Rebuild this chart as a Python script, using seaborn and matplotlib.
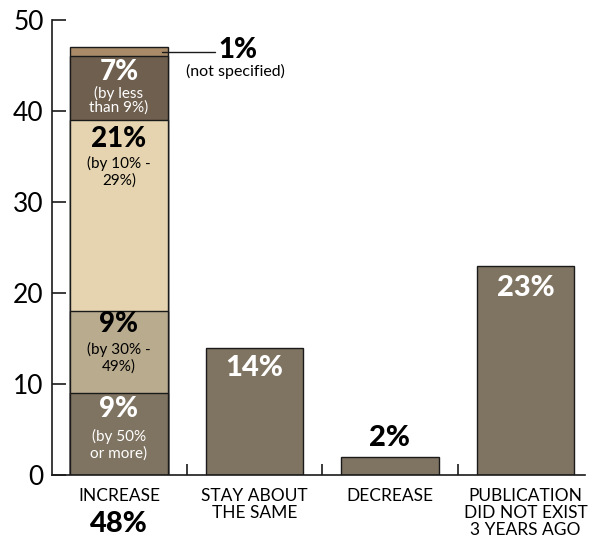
import matplotlib
matplotlib.use("Agg")
import matplotlib.pyplot as plt
import seaborn as sns
import pandas as pd
from matplotlib.ticker import FixedLocator
import matplotlib.transforms as mtrans

categories = ["INCREASE", "STAY ABOUT\nTHE SAME", "DECREASE", "PUBLICATION\nDID NOT EXIST\n3 YEARS AGO"]
totals = [47, 14, 2, 23]
total_labels = ["48%", "14%", "2%", "23%"]

# Increase breakdown (bottom to top)
seg_values = [9, 9, 21, 7, 1]
seg_pct = ["9%", "9%", "21%", "7%", "1%"]
seg_desc = ["(by 50%\nor more)", "(by 30% -\n49%)", "(by 10% -\n29%)", "(by less\nthan 9%)", "(not specified)"]
seg_colors = ["#7f7461", "#b9ab8e", "#e5d4af", "#6f5f4f", "#a98a69"]
seg_text_colors = ["white", "black", "black", "white", "black"]
bar_color = "#7f7461"
y_ticks = [0, 10, 20, 30, 40, 50]

sns.set_theme(style="white")
plt.rcParams["font.family"] = ["Lato", "DejaVu Sans"]

fig = plt.figure(figsize=(5.91, 5.45), dpi=100)
ax = fig.add_axes([0.088, 0.1284, 0.902, 0.8349])

edge = "#1a1a1a"
W = 0.72
BOLD = 900

# simple bars (non-increase)
df_tot = pd.DataFrame({"cat": categories[1:], "val": totals[1:]})
sns.barplot(data=df_tot, x="cat", y="val", order=categories, color=bar_color,
            saturation=1, width=W, edgecolor=edge, linewidth=1.0, ax=ax)

# stacked Increase bar: draw cumulative layers from top down
cum = []
s = 0
for v in seg_values:
    s += v
    cum.append(s)
for i in range(len(seg_values) - 1, -1, -1):
    d = pd.DataFrame({"cat": [categories[0]], "val": [cum[i]]})
    sns.barplot(data=d, x="cat", y="val", order=categories, color=seg_colors[i],
                saturation=1, width=W, edgecolor=edge, linewidth=1.0, ax=ax)

ax.set_xlim(-0.494, 3.44)
ax.set_ylim(0, 50)
ax.set_xlabel("")
ax.set_ylabel("")

for sp in ["top", "right"]:
    ax.spines[sp].set_visible(False)
for sp in ["left", "bottom"]:
    ax.spines[sp].set_color(edge)
    ax.spines[sp].set_linewidth(1.2)

ax.set_yticks(y_ticks)
ax.set_yticklabels([str(t) for t in y_ticks], fontsize=19, color="black")
ax.tick_params(axis="y", direction="in", length=10, width=1.2, color=edge, pad=6, left=True,
               labelcolor="black")

ax.set_xticks(range(len(categories)))
ax.set_xticklabels(categories, fontsize=12.5, linespacing=1.1, va="top", color="black")
ax.tick_params(axis="x", which="major", length=0, pad=9, labelcolor="black")
ax.xaxis.set_minor_locator(FixedLocator([0.5, 1.5, 2.5]))
ax.tick_params(axis="x", which="minor", direction="in", length=8, width=1.2, color=edge, bottom=True)

# bold 48% below INCREASE label
trans = mtrans.blended_transform_factory(ax.transData, ax.transAxes)
ax.text(0, -0.078, total_labels[0], transform=trans, ha="center", va="top",
        fontsize=21, fontweight=BOLD, color="black")

# segment labels
pct_y = [7.2, 16.6, 36.9, 44.3]
desc_y = [3.35, 12.85, 33.3, 41.15]
desc_ls = [1.2, 1.25, 1.15, 0.95]
for i in range(4):
    ax.text(0, pct_y[i], seg_pct[i], ha="center", va="center", fontsize=20,
            fontweight=BOLD, color=seg_text_colors[i])
    ax.text(0, desc_y[i], seg_desc[i], ha="center", va="center", fontsize=11,
            color=seg_text_colors[i], linespacing=desc_ls[i])

# not specified annotation
ax.plot([0.32, 0.71], [46.5, 46.5], color=edge, lw=1.0)
ax.text(0.88, 46.7, seg_pct[4], ha="center", va="center", fontsize=20, fontweight=BOLD, color="black")
ax.text(0.86, 44.3, seg_desc[4], ha="center", va="center", fontsize=11.5, color="black")

# other bar labels
ax.text(1, totals[1] - 2.2, total_labels[1], ha="center", va="center", fontsize=21,
        fontweight=BOLD, color="white")
ax.text(2, totals[2] + 2.1, total_labels[2], ha="center", va="center", fontsize=21,
        fontweight=BOLD, color="black")
ax.text(3, totals[3] - 2.5, total_labels[3], ha="center", va="center", fontsize=21,
        fontweight=BOLD, color="white")

fig.savefig("out.png", dpi=100)
